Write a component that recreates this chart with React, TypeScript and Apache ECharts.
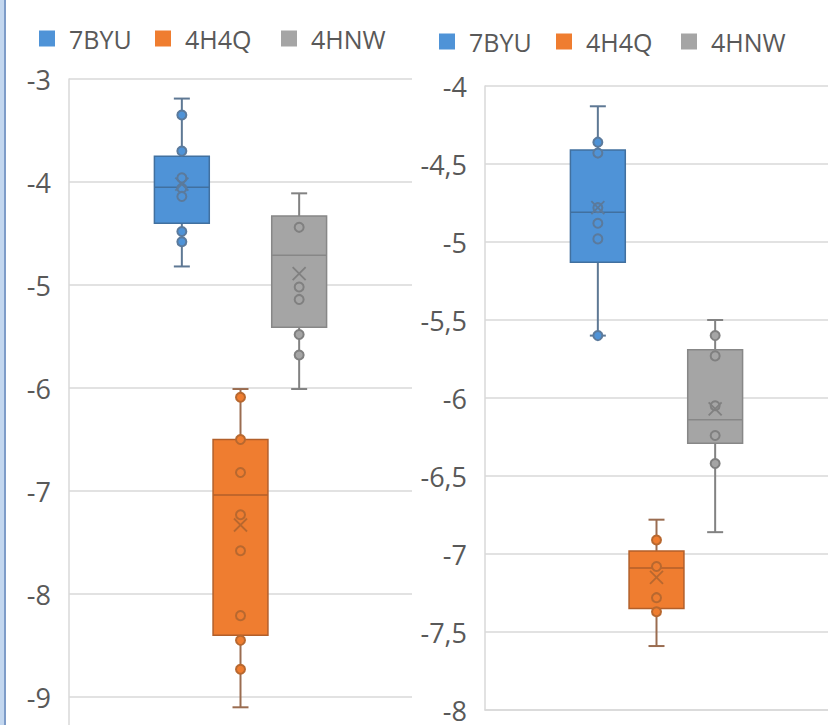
import React, { useEffect, useRef } from 'react';
import * as echarts from 'echarts';

// ---------- data ----------
const seriesNames = ['7BYU', '4H4Q', '4HNW'];

// Left chart: each box = [min, Q1, median, Q3, max]
const leftBoxes = [
  [-4.82, -4.40, -4.05, -3.75, -3.19],
  [-9.10, -8.40, -7.04, -6.50, -6.01],
  [-6.01, -5.41, -4.71, -4.33, -4.11],
];
const leftMeans = [-4.02, -7.33, -4.89];
const leftPoints = [
  [-3.35, -3.70, -3.96, -4.06, -4.14, -4.48, -4.58],
  [-6.09, -6.50, -6.82, -7.23, -7.58, -8.21, -8.45, -8.73],
  [-4.44, -5.02, -5.14, -5.48, -5.68],
];
const leftAxisMin = -10;
const leftAxisMax = -3;
const leftAxisStep = 1;

// Right chart
const rightBoxes = [
  [-5.60, -5.13, -4.81, -4.41, -4.13],
  [-7.59, -7.35, -7.09, -6.98, -6.78],
  [-6.86, -6.29, -6.14, -5.69, -5.50],
];
const rightMeans = [-4.78, -7.15, -6.07];
const rightPoints = [
  [-4.36, -4.43, -4.78, -4.88, -4.98, -5.60],
  [-6.91, -7.08, -7.28, -7.37],
  [-5.60, -5.73, -6.05, -6.24, -6.42],
];
const rightAxisMin = -8;
const rightAxisMax = -4;
const rightAxisStep = 0.5;

// ---------- styles ----------
const STYLES = [
  { fill: '#4F93D7', border: '#41709F', whisker: '#5E7894', point: '#5B7A9C' },
  { fill: '#EF7D30', border: '#B25F2A', whisker: '#9A6C50', point: '#B8682F' },
  { fill: '#A5A5A5', border: '#878787', whisker: '#828282', point: '#808080' },
];
const SPACING = 0.171; // centre-to-centre distance as a share of the band
const HALF_BOX = 0.08;
const CAP_HALF = 8;
const TEXT = '#595959';
const GRID_LINE = '#D9D9D9';
const FONT = '"Open Sans", "Noto Sans", sans-serif';

function makeRenderItem(idx: number, points: number[]) {
  const st = STYLES[idx];
  return (params: any, api: any) => {
    const band = api.size([1, 0])[0];
    const base = api.coord([0, api.value(3)]);
    const cx = base[0] + (idx - 1) * band * SPACING;
    const y = (v: number) => api.coord([0, v])[1];
    const half = band * HALF_BOX;
    const yMin = y(api.value(1));
    const yQ1 = y(api.value(2));
    const yMed = y(api.value(3));
    const yQ3 = y(api.value(4));
    const yMax = y(api.value(5));
    const yMean = y(api.value(6));
    const line = (x1: number, y1: number, x2: number, y2: number, stroke: string, w: number) => ({
      type: 'line',
      shape: { x1, y1, x2, y2 },
      style: { stroke, lineWidth: w },
    });
    const children: any[] = [
      line(cx, yMax, cx, yQ3, st.whisker, 2),
      line(cx, yQ1, cx, yMin, st.whisker, 2),
      line(cx - CAP_HALF, yMax, cx + CAP_HALF, yMax, st.whisker, 2),
      line(cx - CAP_HALF, yMin, cx + CAP_HALF, yMin, st.whisker, 2),
      {
        type: 'rect',
        shape: { x: cx - half, y: yQ3, width: half * 2, height: yQ1 - yQ3 },
        style: { fill: st.fill, stroke: st.border, lineWidth: 1.5 },
      },
      line(cx - half, yMed, cx + half, yMed, st.border, 1.5),
    ];
    points.forEach((p) => {
      children.push({
        type: 'circle',
        shape: { cx, cy: y(p), r: 4.5 },
        style: { fill: st.fill, stroke: st.point, lineWidth: 2 },
      });
    });
    const m = 6.5;
    children.push(line(cx - m, yMean - m, cx + m, yMean + m, st.point, 1.8));
    children.push(line(cx - m, yMean + m, cx + m, yMean - m, st.point, 1.8));
    return { type: 'group', children };
  };
}

const fmt = (v: number) => String(v).replace('.', ',');

export default function App() {
  const ref = useRef<HTMLDivElement>(null);
  useEffect(() => {
    if (!ref.current) return;
    const chart = echarts.init(ref.current, undefined, { renderer: 'svg' });

    const series: any[] = [];
    const charts = [
      { boxes: leftBoxes, means: leftMeans, points: leftPoints },
      { boxes: rightBoxes, means: rightMeans, points: rightPoints },
    ];
    charts.forEach((c, ci) => {
      c.boxes.forEach((b, i) => {
        series.push({
          type: 'custom',
          name: seriesNames[i],
          xAxisIndex: ci,
          yAxisIndex: ci,
          itemStyle: { color: STYLES[i].fill },
          data: [[0, ...b, c.means[i]]],
          renderItem: makeRenderItem(i, c.points[i]),
          silent: true,
        });
      });
    });

    const legendBase = {
      padding: 0,
      itemWidth: 16,
      itemHeight: 16,
      icon: 'rect',
      selectedMode: false,
      textStyle: { fontSize: 25, color: TEXT, fontFamily: FONT, padding: [0, 0, 0, 9], lineHeight: 16 },
    };
    const legendLeftX = [39, 155, 281];
    const legendRightX = [439, 556, 681];
    const legend: any[] = [];
    seriesNames.forEach((n, i) => legend.push({ ...legendBase, left: legendLeftX[i], top: 26, data: [n] }));
    seriesNames.forEach((n, i) => legend.push({ ...legendBase, left: legendRightX[i], top: 29, data: [n] }));

    const yAxisCommon = {
      type: 'value',
      axisLine: { show: true, lineStyle: { color: GRID_LINE, width: 1.5 } },
      axisTick: { show: false },
      splitLine: { show: true, lineStyle: { color: GRID_LINE, width: 1.5 } },
      axisLabel: { fontSize: 27, color: TEXT, fontFamily: FONT, margin: 18, formatter: fmt },
    };
    const xAxisCommon = {
      type: 'category',
      data: [''],
      axisTick: { show: false },
      axisLabel: { show: false },
      axisLine: { show: true, lineStyle: { color: GRID_LINE, width: 1.5 } },
      splitLine: { show: false },
    };

    chart.setOption({
      animation: false,
      backgroundColor: '#FFFFFF',
      legend,
      grid: [
        { left: 69, top: 79, width: 343, height: 721 },
        { left: 485, top: 86, width: 343, height: 624 },
      ],
      xAxis: [
        { ...xAxisCommon, gridIndex: 0 },
        { ...xAxisCommon, gridIndex: 1 },
      ],
      yAxis: [
        {
          ...yAxisCommon,
          gridIndex: 0,
          min: leftAxisMin,
          max: leftAxisMax,
          interval: leftAxisStep,
          axisLabel: { ...yAxisCommon.axisLabel, showMinLabel: false },
        },
        { ...yAxisCommon, gridIndex: 1, min: rightAxisMin, max: rightAxisMax, interval: rightAxisStep },
      ],
      series,
      graphic: [
        { type: 'rect', left: 0, top: 0, shape: { x: 0, y: 0, width: 5, height: 725 }, style: { fill: '#C3D7EF' }, silent: true },
        { type: 'line', shape: { x1: 5, y1: 0, x2: 5, y2: 725 }, style: { stroke: '#7E9CC8', lineWidth: 2 }, silent: true },
      ],
    });
    return () => chart.dispose();
  }, []);
  return (
    <div
      style={{ position: 'absolute', left: 0, top: 0, width: 828, height: 725, overflow: 'hidden', background: '#fff' }}
    >
      <div ref={ref} style={{ width: 828, height: 840 }} />
    </div>
  );
}
